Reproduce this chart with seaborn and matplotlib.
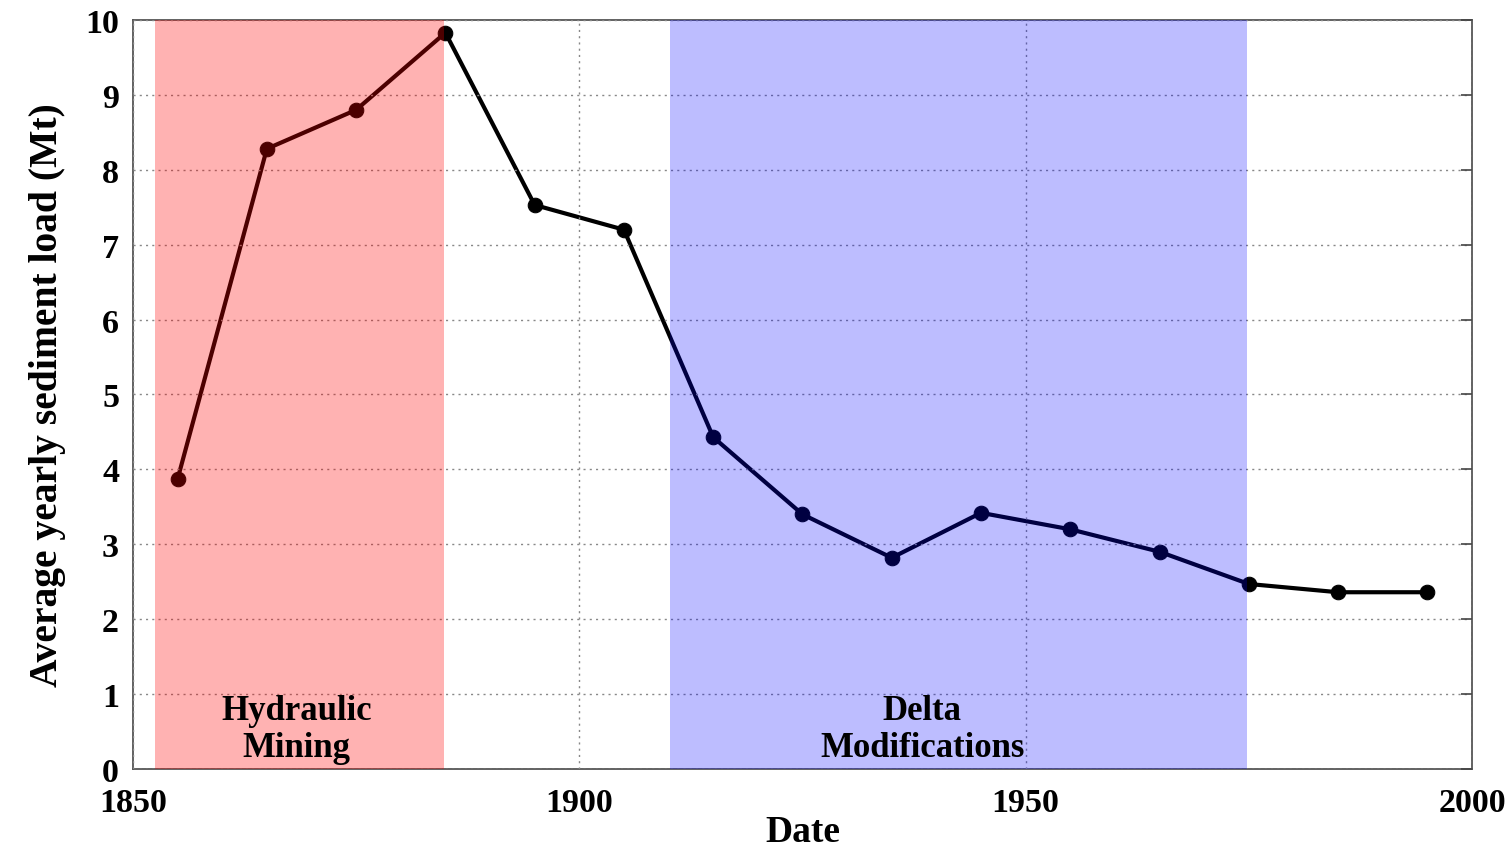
import matplotlib
matplotlib.use("Agg")
import matplotlib.pyplot as plt
import seaborn as sns
import pandas as pd

years = [1855, 1865, 1875, 1885, 1895, 1905, 1915, 1925, 1935, 1945, 1955, 1965, 1975, 1985, 1995]
loads = [3.87, 8.28, 8.80, 9.83, 7.53, 7.20, 4.43, 3.40, 2.82, 3.42, 3.20, 2.90, 2.47, 2.36, 2.36]
x_ticks = [1850, 1900, 1950, 2000]
y_ticks = list(range(0, 11))
mining_span = (1852.5, 1884.8)
delta_span = (1910.2, 1974.8)

sns.set_theme(style="white")
plt.rcParams['font.family'] = ['Liberation Serif', 'DejaVu Serif']
plt.rcParams['font.weight'] = 'bold'
plt.rcParams['text.color'] = 'black'
plt.rcParams['axes.labelcolor'] = 'black'
plt.rcParams['xtick.color'] = 'black'
plt.rcParams['ytick.color'] = 'black'

df = pd.DataFrame({"Date": years, "Load": loads})

fig = plt.figure(figsize=(15.09, 8.53), dpi=100)
ax = fig.add_axes([0.0881, 0.0973, 0.8874, 0.8781])

sns.lineplot(data=df, x="Date", y="Load", ax=ax, color="black", linewidth=3,
             marker="o", markersize=10.5, markeredgecolor="black", zorder=2)

ax.axvspan(*mining_span, color=(1.0, 0.0, 0.0), alpha=0.3, lw=0, zorder=3)
ax.axvspan(*delta_span, color=(0.0, 0.0, 1.0), alpha=0.26, lw=0, zorder=3)

ax.set_xlim(1850, 2000)
ax.set_ylim(0, 10)
ax.set_xticks(x_ticks)
ax.set_yticks(y_ticks)
ax.grid(True, linestyle=(0, (1.5, 3)), color="#888888", linewidth=1.0, zorder=4)
ax.set_axisbelow(False)

ax.tick_params(axis="both", direction="in", length=8, width=1.2, color="#444444",
               labelsize=24.5, labelcolor="black", top=False, right=True)
ax.tick_params(axis="x", pad=13)
ax.tick_params(axis="y", pad=10)
for lab in ax.get_xticklabels() + ax.get_yticklabels():
    lab.set_fontweight("bold")
for s in ax.spines.values():
    s.set_color("#555555")
    s.set_linewidth(1.3)

ax.set_xlabel("Date", fontsize=27, fontweight="bold", labelpad=-3, color="black")
ax.set_ylabel("Average yearly sediment load (Mt)", fontsize=28.5, fontweight="bold",
              labelpad=14, color="black")

ax.text(1868.3, 0.53, "Hydraulic\nMining", ha="center", va="center", fontsize=25,
        fontweight="bold", linespacing=1.15, zorder=5, color="black")
ax.text(1938.4, 0.53, "Delta\nModifications", ha="center", va="center", fontsize=25,
        fontweight="bold", linespacing=1.15, zorder=5, color="black")

fig.savefig("out.png", dpi=100)
